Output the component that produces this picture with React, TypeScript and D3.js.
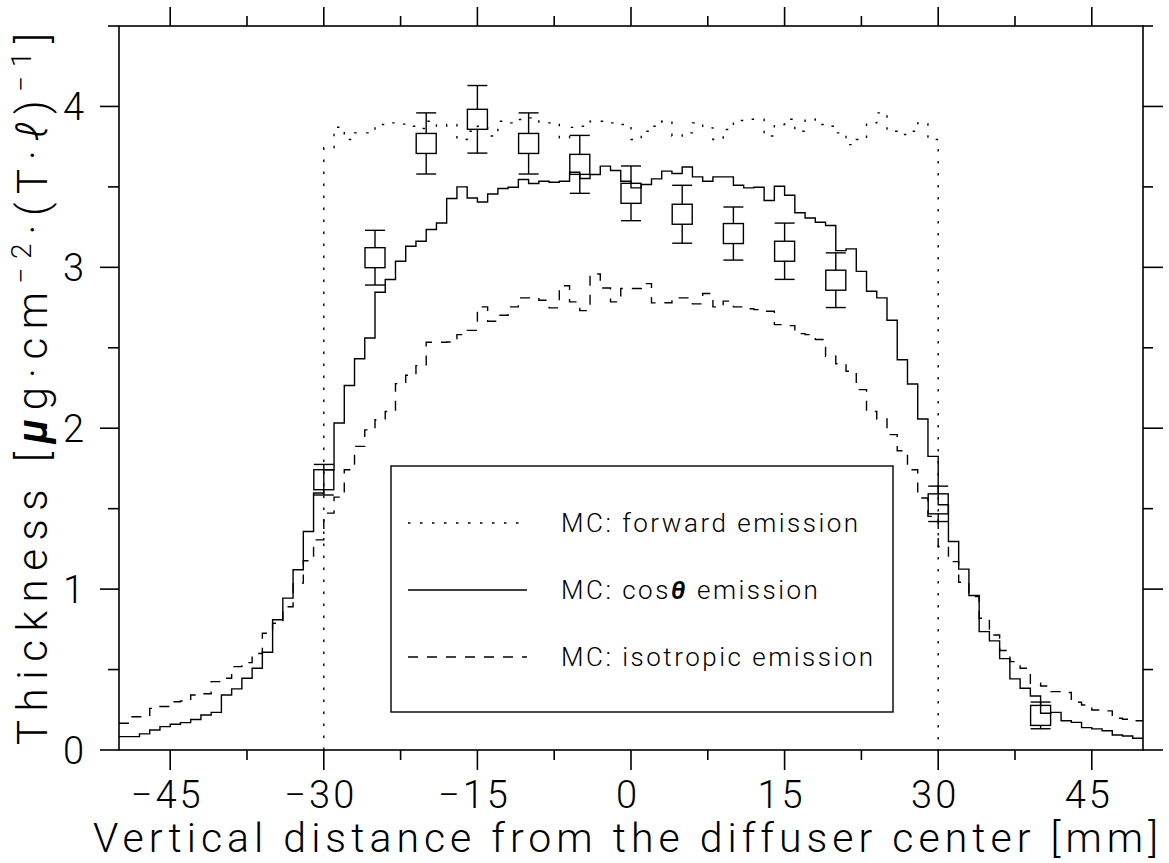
import React from "react";
import * as d3 from "d3";

// ---------- data ----------
const binLowEdges = d3.range(-50, 50); // 1 mm bins, lower edges
const cosThetaValues = [
  0.083, 0.083, 0.10, 0.124, 0.145, 0.16, 0.17, 0.19, 0.218, 0.234,
  0.342, 0.38, 0.446, 0.508, 0.608, 0.81, 0.944, 1.12, 1.358, 1.597,
  1.742, 2.032, 2.266, 2.432, 2.561, 2.845, 2.924, 3.038, 3.131, 3.162,
  3.235, 3.276, 3.428, 3.5, 3.431, 3.406, 3.456, 3.49, 3.498, 3.546,
  3.521, 3.535, 3.529, 3.535, 3.591, 3.552, 3.577, 3.629, 3.602, 3.535,
  3.494, 3.515, 3.55, 3.598, 3.583, 3.624, 3.562, 3.535, 3.562, 3.562,
  3.51, 3.494, 3.498, 3.415, 3.504, 3.448, 3.339, 3.307, 3.28, 3.26,
  3.104, 3.115, 2.975, 2.851, 2.81, 2.671, 2.426, 2.275, 2.057, 1.825,
  1.524, 1.296, 1.124, 0.96, 0.736, 0.678, 0.568, 0.442, 0.384, 0.336,
  0.228, 0.234, 0.182, 0.172, 0.139, 0.131, 0.12, 0.093, 0.087, 0.073,
];
const isotropicValues = [
  0.166, 0.207, 0.207, 0.259, 0.27, 0.30, 0.305, 0.342, 0.35, 0.425,
  0.446, 0.518, 0.543, 0.60, 0.726, 0.788, 0.89, 1.037, 1.176, 1.306,
  1.472, 1.572, 1.742, 1.887, 1.99, 2.053, 2.104, 2.277, 2.329, 2.389,
  2.534, 2.534, 2.536, 2.582, 2.608, 2.754, 2.665, 2.702, 2.754, 2.81,
  2.81, 2.795, 2.748, 2.886, 2.785, 2.731, 2.959, 2.872, 2.785, 2.868,
  2.868, 2.899, 2.779, 2.78, 2.81, 2.81, 2.773, 2.837, 2.754, 2.79,
  2.754, 2.743, 2.737, 2.727, 2.644, 2.638, 2.588, 2.582, 2.551, 2.447,
  2.401, 2.354, 2.24, 2.104, 2.057, 1.96, 1.86, 1.742, 1.566, 1.452,
  1.265, 1.171, 1.043, 0.954, 0.819, 0.715, 0.618, 0.549, 0.508, 0.415,
  0.398, 0.363, 0.357, 0.297, 0.28, 0.249, 0.243, 0.197, 0.191, 0.182,
];
const forwardLowEdges = d3.range(-30, 30);
const forwardValues = [
  3.743, 3.871, 3.795, 3.836, 3.836, 3.888, 3.898, 3.89, 3.877, 3.863,
  3.908, 3.877, 3.888, 3.795, 3.846, 3.877, 3.816, 3.908, 3.898, 3.919,
  3.929, 3.898, 3.898, 3.805, 3.87, 3.877, 3.908, 3.908, 3.898, 3.888,
  3.795, 3.846, 3.877, 3.908, 3.816, 3.836, 3.898, 3.867, 3.795, 3.857,
  3.913, 3.92, 3.92, 3.816, 3.888, 3.92, 3.846, 3.92, 3.888, 3.877,
  3.836, 3.763, 3.795, 3.898, 3.96, 3.846, 3.826, 3.846, 3.898, 3.795,
];
const measX = [-30, -25, -20, -15, -10, -5, 0, 5, 10, 15, 20, 30, 40];
const measY = [1.68, 3.06, 3.77, 3.92, 3.77, 3.64, 3.46, 3.33, 3.21, 3.10, 2.92, 1.53, 0.215];
const measErr = [0.095, 0.17, 0.19, 0.21, 0.19, 0.18, 0.17, 0.18, 0.165, 0.175, 0.17, 0.11, 0.083];

const xMajorTicks = [-45, -30, -15, 0, 15, 30, 45];
const xMinorTicks = [-37.5, -22.5, -7.5, 7.5, 22.5, 37.5];
const yMajorTicks = [0, 1, 2, 3, 4];
const yMinorTicks = [0.5, 1.5, 2.5, 3.5, 4.5];

const legendLabels = ["MC: forward emission", "MC: cos", "MC: isotropic emission"];

// ---------- layout ----------
const W = 1169, H = 863;
const L = 119, R = 1143, T = 26, B = 750;
const FONT = "Roboto, 'DejaVu Sans', sans-serif";
const FW = 300;

const x = d3.scaleLinear().domain([-50, 50]).range([L, R]);
const y = d3.scaleLinear().domain([0, 4.5]).range([B, T]);

const stepLine = d3.line<[number, number]>()
  .x((d) => x(d[0]))
  .y((d) => y(d[1]))
  .curve(d3.curveStepAfter);

function histPoints(edges: number[], vals: number[], closed: boolean): [number, number][] {
  const pts: [number, number][] = [];
  if (closed) pts.push([edges[0], 0]);
  edges.forEach((e, i) => pts.push([e, vals[i]]));
  const last = edges[edges.length - 1] + 1;
  pts.push([last, vals[vals.length - 1]]);
  if (closed) pts.push([last, 0]);
  return pts;
}

const fmt = (v: number) => (v < 0 ? "\u2212" + Math.abs(v) : String(v));

export default function App() {
  const stroke = "#000";
  const sw = 1.4;
  const dotted = "2.5,9.5";
  const dashed = "10,9";
  const half = 10;

  const legendRows = [523, 590, 657];
  const legendDash = [dotted, undefined, dashed];

  return (
    <svg
      width={W}
      height={H}
      viewBox={`0 0 ${W} ${H}`}
      style={{ position: "absolute", left: 0, top: 0, background: "#fff" }}
    >
      <rect x={0} y={0} width={W} height={H} fill="#fff" />
      {/* histograms */}
      <path d={stepLine(histPoints(forwardLowEdges, forwardValues, true)) || ""} fill="none" stroke={stroke} strokeWidth={sw} strokeDasharray={dotted} />
      <path d={stepLine(histPoints(binLowEdges, isotropicValues, false)) || ""} fill="none" stroke={stroke} strokeWidth={sw} strokeDasharray={dashed} />
      <path d={stepLine(histPoints(binLowEdges, cosThetaValues, false)) || ""} fill="none" stroke={stroke} strokeWidth={sw} />

      {/* measurements */}
      {measX.map((mx, i) => {
        const cx = x(mx);
        const cy = y(measY[i]);
        const yt = y(measY[i] + measErr[i]);
        const yb = y(measY[i] - measErr[i]);
        return (
          <g key={i} stroke={stroke} strokeWidth={sw} fill="none">
            <rect x={cx - half} y={cy - half} width={2 * half} height={2 * half} />
            <line x1={cx} x2={cx} y1={yt} y2={cy - half} />
            <line x1={cx} x2={cx} y1={cy + half} y2={yb} />
            <line x1={cx - half} x2={cx + half} y1={yt} y2={yt} />
            <line x1={cx - half} x2={cx + half} y1={yb} y2={yb} />
          </g>
        );
      })}

      {/* frame */}
      <rect x={L} y={T} width={R - L} height={B - T} fill="none" stroke={stroke} strokeWidth={1.6} />

      {/* x ticks */}
      {xMajorTicks.map((t) => (
        <g key={"xM" + t} stroke={stroke} strokeWidth={1.6}>
          <line x1={x(t)} x2={x(t)} y1={B} y2={B + 20} />
          <line x1={x(t)} x2={x(t)} y1={T} y2={T - 19} />
        </g>
      ))}
      {xMinorTicks.map((t) => (
        <g key={"xm" + t} stroke={stroke} strokeWidth={1.6}>
          <line x1={x(t)} x2={x(t)} y1={B} y2={B + 10} />
          <line x1={x(t)} x2={x(t)} y1={T} y2={T - 10} />
        </g>
      ))}
      {/* y ticks */}
      {yMajorTicks.map((t) => (
        <g key={"yM" + t} stroke={stroke} strokeWidth={1.6}>
          <line x1={L} x2={L - 19} y1={y(t)} y2={y(t)} />
          <line x1={R} x2={R + 20} y1={y(t)} y2={y(t)} />
        </g>
      ))}
      {yMinorTicks.map((t) => (
        <g key={"ym" + t} stroke={stroke} strokeWidth={1.6}>
          <line x1={L} x2={L - 11} y1={y(t)} y2={y(t)} />
          <line x1={R} x2={R + 10} y1={y(t)} y2={y(t)} />
        </g>
      ))}

      {/* tick labels */}
      {xMajorTicks.map((t) => (
        <text key={"xl" + t} x={x(t) - 3} y={808} textAnchor="middle" fontFamily={FONT} fontWeight={FW} fontSize={38} letterSpacing={3} fill="#000">
          {fmt(t)}
        </text>
      ))}
      {yMajorTicks.map((t) => (
        <text key={"yl" + t} x={84} y={y(t) + 14} textAnchor="end" fontFamily={FONT} fontWeight={FW} fontSize={38} fill="#000">
          {fmt(t)}
        </text>
      ))}

      {/* axis titles */}
      <text x={93} y={852} fontFamily={FONT} fontWeight={FW} fontSize={41} textLength={1065} lengthAdjust="spacing" fill="#000">
        Vertical distance from the diffuser center [mm]
      </text>
      <text transform="translate(47,745) rotate(-90)" x={0} y={0} fontFamily={FONT} fontWeight={FW} fontSize={42} textLength={712} lengthAdjust="spacing" fill="#000">
        Thickness [<tspan fontStyle="italic" fontWeight={600}>μ</tspan>g·cm<tspan dy={-16} fontSize={28}>−2</tspan><tspan dy={16}>·(T·</tspan><tspan fontStyle="italic">ℓ</tspan>)<tspan dy={-16} fontSize={28}>−1</tspan><tspan dy={16}>]</tspan>
      </text>

      {/* legend */}
      <rect x={391} y={466} width={502} height={246} fill="none" stroke={stroke} strokeWidth={1.4} />
      {legendRows.map((ry, i) => (
        <g key={"lg" + i}>
          <line x1={408} x2={527} y1={ry} y2={ry} stroke={stroke} strokeWidth={sw} strokeDasharray={legendDash[i]} />
          <text x={561} y={ry + 9} fontFamily={FONT} fontWeight={FW} fontSize={26} letterSpacing={2.5} fill="#000">
            {legendLabels[i]}
            {i === 1 ? (
              <>
                <tspan fontStyle="italic" fontWeight={600}>θ</tspan> emission
              </>
            ) : null}
          </text>
        </g>
      ))}
    </svg>
  );
}
